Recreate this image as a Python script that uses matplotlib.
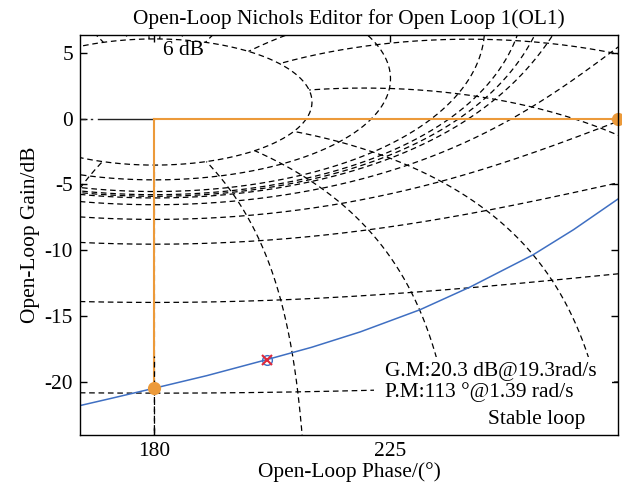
import numpy as np
import matplotlib
matplotlib.use("Agg")
import matplotlib.pyplot as plt
from matplotlib.patches import Rectangle

plt.rcParams['font.family'] = ['Liberation Serif', 'DejaVu Serif']
plt.rcParams['axes.unicode_minus'] = False

# Nichols grid levels (closed-loop gain in dB, closed-loop phase in deg)
m_levels_db = [6, 3, 1, 0.5, 0.25, 0, -1, -3, -6, -12, -20, -40]
n_levels_deg = [-1, -5, -10, -20, -30, -50, -90, -120, -150, -180,
                1, 5, 10, 20, 30, 50, 90, 120, 150]

# open-loop response
ol_phase = [165.8, 172.0, 180.0, 190.0, 201.5, 210.0, 219.3, 230.7, 240.3, 252.3, 260.0, 268.5]
ol_gain = [-21.77, -21.2, -20.45, -19.5, -18.28, -17.35, -16.18, -14.5, -12.77, -10.33, -8.43, -6.1]

gm_point = (180.0, -20.45)
pm_point = (268.5, 0.0)
comp_point = (201.5, -18.28)

ORANGE = '#EC9A3A'
BLUE = '#3F6FC2'
FS = 15.4


def split_jumps(x, y):
    x = np.asarray(x, float)
    y = np.asarray(y, float)
    jump = np.where(np.abs(np.diff(x)) > 90)[0]
    x = np.insert(x, jump + 1, np.nan)
    y = np.insert(y, jump + 1, np.nan)
    return x, y


fig = plt.figure(figsize=(6.22, 4.86), dpi=100)
ax = fig.add_axes([0.1286, 0.105, 0.8650, 0.823])

dash = (0, (4.5, 3.0))

# M contours
psi = np.deg2rad(np.linspace(-359.9, -0.1, 3000))
for mdb in m_levels_db:
    m = 10 ** (mdb / 20)
    T = m * np.exp(1j * psi)
    G = T / (1 - T)
    x = np.mod(np.angle(G, deg=True), 360)
    y = 20 * np.log10(np.abs(G))
    x, y = split_jumps(x, y)
    ax.plot(x, y, color='k', lw=0.9, ls=dash, zorder=1)

# N (phase) contours, drawn outside the 6 dB contour
mags = 10 ** (np.linspace(-80, 6, 3000) / 20)
for nd in n_levels_deg:
    T = mags * np.exp(1j * np.deg2rad(nd))
    G = T / (1 - T)
    x = np.mod(np.angle(G, deg=True), 360)
    y = 20 * np.log10(np.abs(G))
    x, y = split_jumps(x, y)
    ax.plot(x, y, color='k', lw=0.9, ls=dash, zorder=1)

# black segment at 0 dB left of the critical point
ax.plot([169.2, 180], [0, 0], color='#222222', lw=1.0, zorder=2)
ax.plot([165.9, 166.8], [0, 0], color='#222222', lw=1.0, zorder=2)
ax.plot([167.8, 168.1], [0, 0], color='#222222', lw=1.0, zorder=2)

# margin lines
ax.plot([gm_point[0], gm_point[0]], [gm_point[1], 0], color=ORANGE, lw=1.5, zorder=2)
ax.plot([180, pm_point[0]], [0, 0], color=ORANGE, lw=1.5, zorder=2)
ax.plot([180, 180], [-24.5, -18.0], color='k', lw=0.9, ls=dash, zorder=2.5)

# open-loop curve
ax.plot(ol_phase, ol_gain, color=BLUE, lw=1.1, zorder=3)
ax.plot(*gm_point, 'o', color=ORANGE, ms=8.5, zorder=4)
ax.plot(*pm_point, 'o', color=ORANGE, ms=8.5, zorder=4, clip_on=False)
ax.plot(*comp_point, 'o', mfc='none', mec=BLUE, ms=7, mew=1.0, zorder=4)
ax.plot(*comp_point, 'x', color='#E0283A', ms=6.5, mew=1.5, zorder=4)

# white background behind the margin readout
ax.add_patch(Rectangle((222.0, -24.5), 45.3, 6.45, facecolor='white',
                       edgecolor='none', zorder=4.5))

ax.text(181.7, 5.2, '6 dB', fontsize=FS, ha='left', va='center', zorder=5)
ax.text(224.0, -19.98, 'G.M:20.3 dB@19.3rad/s\nP.M:113 \u00b0@1.39 rad/s',
        fontsize=FS, ha='left', va='center', linespacing=1.08, zorder=5)
ax.text(262.2, -22.83, 'Stable loop', fontsize=FS, ha='right', va='center', zorder=5)

ax.set_xlim(165.79, 268.5)
ax.set_ylim(-24.0, 6.34)
ax.set_xticks([180, 225])
ax.set_yticks([5, 0, -5, -10, -15, -20])
ax.tick_params(direction='in', top=True, right=True, length=5, width=1.0,
               labelsize=FS, pad=5)
for s in ax.spines.values():
    s.set_linewidth(1.0)
    s.set_zorder(6)

ax.set_xlabel('Open-Loop Phase/(\u00b0)', fontsize=FS, labelpad=1)
ax.set_ylabel('Open-Loop Gain/dB', fontsize=FS, labelpad=3)
ax.set_title('Open-Loop Nichols Editor for Open Loop 1(OL1)', fontsize=FS, pad=8)

fig.savefig('out.png', dpi=100)
